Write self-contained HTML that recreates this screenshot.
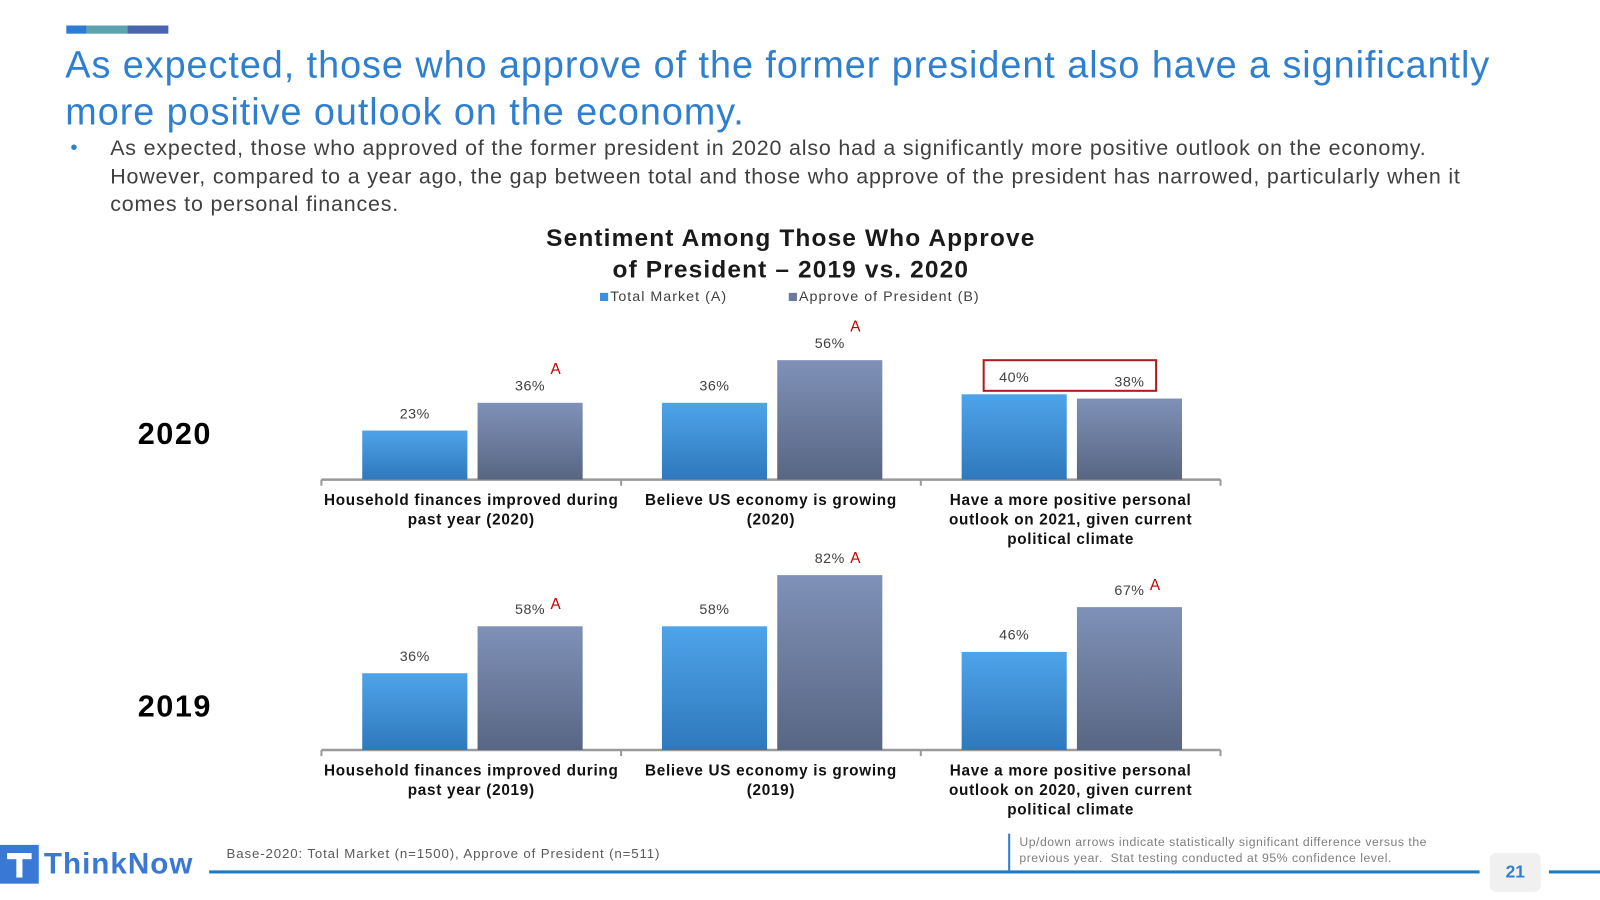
<!DOCTYPE html>
<html><head><meta charset="utf-8">
<style>
html,body{margin:0;padding:0;background:#fff;width:1600px;height:900px;overflow:hidden}
#stage{position:absolute;left:0;top:0;width:1568px;height:882px;transform:scale(1.0204);transform-origin:0 0;font-family:"Liberation Sans",Arial,sans-serif}
.abs{position:absolute}
</style></head><body>
<div id="stage">
  <div class="abs" style="left:65px;top:25px;width:20px;height:8px;background:#2b7cd3"></div>
  <div class="abs" style="left:85px;top:25px;width:40px;height:8px;background:#5ba3ad"></div>
  <div class="abs" style="left:125px;top:25px;width:40px;height:8px;background:#4a65ad"></div>
  <div class="abs" style="left:64px;top:41px;width:1500px;font-size:37px;line-height:46px;color:#2f7fd0;letter-spacing:0.95px;white-space:nowrap">As expected, those who approve of the former president also have a significantly<br>more positive outlook on the economy.</div>
  <div class="abs" style="left:69px;top:134px;font-size:20px;color:#2f7fd0">•</div>
  <div class="abs" style="left:108px;top:132px;width:1450px;font-size:21px;line-height:27.5px;color:#404040;letter-spacing:0.8px;white-space:nowrap">As expected, those who approved of the former president in 2020 also had a significantly more positive outlook on the economy.<br>However, compared to a year ago, the gap between total and those who approve of the president has narrowed, particularly when it<br>comes to personal finances.</div>

  <svg class="abs" style="left:0;top:0" width="1568" height="882" id="chart">
    <text x="775" y="241" text-anchor="middle" font-size="24" font-weight="bold" fill="#1a1a1a" letter-spacing="1.1">Sentiment Among Those Who Approve</text>
    <text x="775" y="272" text-anchor="middle" font-size="24" font-weight="bold" fill="#1a1a1a" letter-spacing="1.1">of President – 2019 vs. 2020</text>
    <rect x="588" y="287" width="8" height="8" fill="#3d8fdc"/>
    <text x="598" y="295" font-size="14" fill="#404040" letter-spacing="1">Total Market (A)</text>
    <rect x="773" y="287" width="8" height="8" fill="#6a7aa0"/>
    <text x="783" y="295" font-size="14" fill="#404040" letter-spacing="1">Approve of President (B)</text>
    <text x="135" y="435" font-size="30" font-weight="bold" fill="#000" letter-spacing="1.5">2020</text>
    <text x="135" y="702" font-size="30" font-weight="bold" fill="#000" letter-spacing="1.5">2019</text>
    <rect x="964" y="353" width="169" height="30" fill="none" stroke="#b01c1c" stroke-width="2"/>
    <defs>
      <linearGradient id="gBlue" x1="0" y1="0" x2="0" y2="1"><stop offset="0" stop-color="#4ea4e9"/><stop offset="1" stop-color="#2f78bd"/></linearGradient>
      <linearGradient id="gGray" x1="0" y1="0" x2="0" y2="1"><stop offset="0" stop-color="#7f91b8"/><stop offset="1" stop-color="#586683"/></linearGradient>
    </defs>
  </svg>

  <div class="abs" style="left:0;top:828px;height:38px;display:flex;align-items:center">
    <div style="width:38px;height:38px;background:#3a78d6;position:relative">
      <div style="position:absolute;left:7px;top:8px;width:24px;height:6px;background:#fff"></div>
      <div style="position:absolute;left:16px;top:8px;width:6px;height:24px;background:#fff"></div>
    </div>
    <span style="font-size:29px;font-weight:bold;color:#3a78d6;margin-left:5px;letter-spacing:1px">ThinkNow</span>
  </div>
  <div class="abs" style="left:222px;top:829px;font-size:13px;color:#595959;letter-spacing:0.85px;white-space:nowrap">Base-2020: Total Market (n=1500), Approve of President (n=511)</div>
  <div class="abs" style="left:205px;top:853px;width:1245px;height:3px;background:#1f78c1"></div>
  <div class="abs" style="left:1518px;top:853px;width:50px;height:3px;background:#1f78c1"></div>
  <div class="abs" style="left:988px;top:817px;width:2px;height:36px;background:#2f7fd0"></div>
  <div class="abs" style="left:999px;top:818px;width:440px;font-size:12px;line-height:15.5px;color:#7f7f7f;letter-spacing:0.5px;white-space:nowrap">Up/down arrows indicate statistically significant difference versus the<br>previous year.&nbsp; Stat testing conducted at 95% confidence level.</div>
  <div class="abs" style="left:1460px;top:836px;width:50px;height:38px;background:#f0f0f0;border-radius:6px;text-align:center;line-height:38px;font-size:17px;font-weight:bold;color:#2f7fd0">21</div>
</div>
<script>
const categories2020 = [["Household finances improved during","past year (2020)"],["Believe US economy is growing","(2020)"],["Have a more positive personal","outlook on 2021, given current","political climate"]];
const categories2019 = [["Household finances improved during","past year (2019)"],["Believe US economy is growing","(2019)"],["Have a more positive personal","outlook on 2020, given current","political climate"]];
const total2020 = [23, 36, 40];
const approve2020 = [36, 56, 38];
const total2019 = [36, 58, 46];
const approve2019 = [58, 82, 67];
const sig2020 = [true, true, false];
const sig2019 = [true, true, true];

const NS = "http://www.w3.org/2000/svg";
const svg = document.getElementById('chart');
const pxPerPct = 2.09;
const axisLeft = 315, groupW = 293.7;
function yScale(base, v){ return base - v * pxPerPct; }
function mk(tag, attrs){ const e=document.createElementNS(NS,tag); for(const k in attrs) e.setAttribute(k, attrs[k]); svg.appendChild(e); return e; }

function drawPanel(base, cats, tot, app, sig, year){
  const ax = mk('line',{x1:axisLeft,y1:base,x2:axisLeft+3*groupW,y2:base,stroke:'#9a9a9a','stroke-width':2.5});
  
  
  for(let i=0;i<=3;i++){
    const t = mk('line',{x1:axisLeft+i*groupW,y1:base,x2:axisLeft+i*groupW,y2:base+6,stroke:'#9a9a9a','stroke-width':2});
    
    
  }
  cats.forEach((c,i)=>{
    const g0 = axisLeft + i*groupW;
    const series = [[tot[i],'url(#gBlue)',40,'total'],[app[i],'url(#gGray)',153,'approve']];
    series.forEach(([v,fill,off,nm])=>{
      const x = g0+off, w=103, top=yScale(base,v);
      const r = mk('rect',{x:x,y:top,width:w,height:base-top,fill:fill});
      
      
      const l = mk('text',{x:x+w/2,y:top-12,'text-anchor':'middle','font-size':14,fill:'#404040','letter-spacing':0.5});
      l.textContent = v + '%';
      
      
      if(nm==='approve' && sig[i]){
        const dy = year==='2020' ? 28 : (i===1 ? 12 : 17);
        const a = mk('text',{x:x+w/2+25,y:top-dy,'text-anchor':'middle','font-size':15,fill:'#c00000'});
        a.textContent = 'A';
        
        
      }
    });
    c.forEach((line,j)=>{
      const t = mk('text',{x:g0+groupW/2,y:base+25+j*19,'text-anchor':'middle','font-size':15,'font-weight':'bold',fill:'#111','letter-spacing':0.7});
      t.textContent = line;
      
      
    });
  });
}
drawPanel(470, categories2020, total2020, approve2020, sig2020, '2020');
drawPanel(735, categories2019, total2019, approve2019, sig2019, '2019');
</script>
</body></html>
